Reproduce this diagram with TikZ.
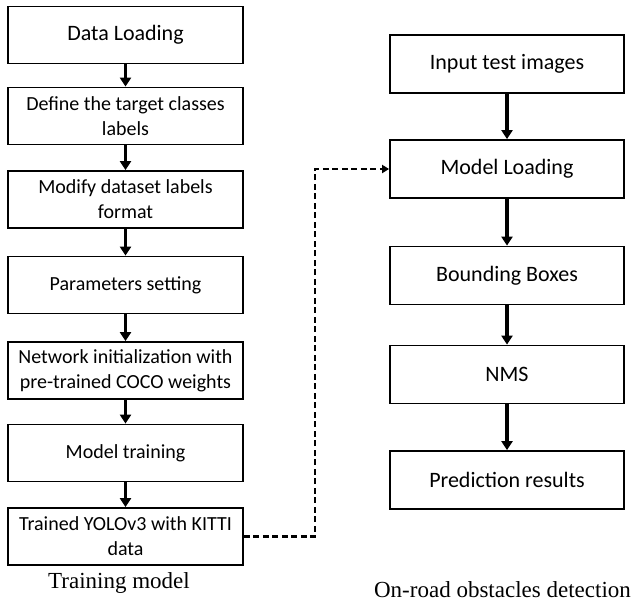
\documentclass[tikz,border=0pt]{standalone}
\usepackage{fontspec}
\setmainfont{Carlito}
\newfontfamily\capfont{Liberation Serif}
\usetikzlibrary{arrows.meta}
\begin{document}
\begin{tikzpicture}[x=1pt,y=1pt,
  lbox/.style={draw=black,line width=1.8pt,minimum width=235pt,minimum height=57pt,align=center,inner sep=2pt,font=\fontsize{20}{25}\selectfont},
  rbox/.style={draw=black,line width=1.8pt,minimum width=234pt,minimum height=58pt,align=center,inner sep=2pt,font=\fontsize{22}{26}\selectfont},
  flow/.style={line width=3.6pt,-{Triangle[length=9pt,width=11pt]}},
  link/.style={line width=2.6pt,dash pattern=on 6pt off 3.5pt,-{Triangle[length=7pt,width=8pt]}},
  captext/.style={font=\capfont\fontsize{23}{27}\selectfont,inner sep=0pt}]
\useasboundingbox (0,0) rectangle (631,-603);
\node[lbox,font=\fontsize{22}{26}\selectfont] (L1) at (125.5,-35) {Data Loading};
\node[lbox] (L2) at (125.5,-116) {Define the target classes\\labels};
\node[lbox] (L3) at (125.5,-199.5) {Modify dataset labels\\format};
\node[lbox] (L4) at (125.5,-285) {Parameters setting};
\node[lbox] (L5) at (125.5,-370.5) {Network initialization with\\pre-trained COCO weights};
\node[lbox] (L6) at (125.5,-453) {Model training};
\node[lbox] (L7) at (125.5,-536.5) {Trained YOLOv3 with KITTI\\data};
\node[rbox] (R1) at (507,-64) {Input test images};
\node[rbox] (R2) at (507,-169) {Model Loading};
\node[rbox] (R3) at (507,-275.5) {Bounding Boxes};
\node[rbox] (R4) at (507,-374.5) {NMS};
\node[rbox] (R5) at (507,-480) {Prediction results};
\node[captext] (C1) at (119,-583) {Training model};
\node[captext] (C2) at (502.5,-590) {On-road obstacles detection};
\foreach \a/\b in {L1/L2,L2/L3,L3/L4,L4/L5,L5/L6,L6/L7,R1/R2,R2/R3,R3/R4,R4/R5}
  \draw[flow] (\a.south) -- (\b.north);
\coordinate (bend) at (315,0);
\draw[link] (L7.east) -- (L7.east -| bend) -- (bend |- R2.west) -- (R2.west);
\end{tikzpicture}
\end{document}
